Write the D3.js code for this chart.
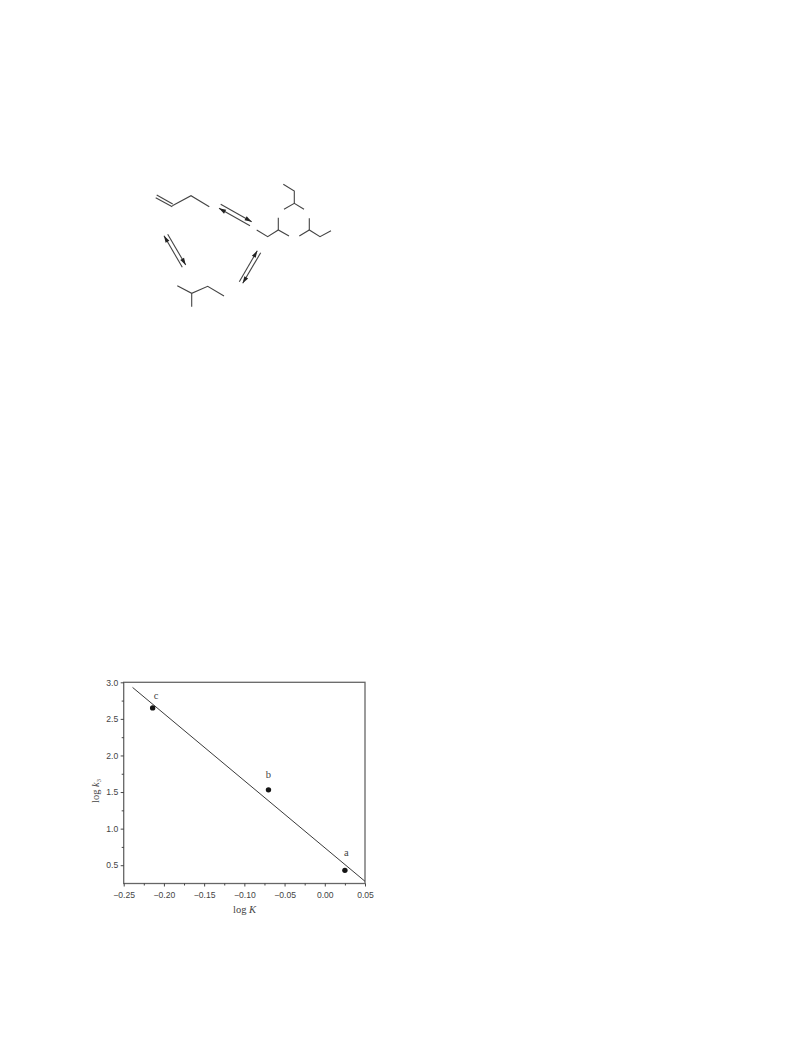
<!DOCTYPE html>
<html><head><meta charset="utf-8">
<script src="https://cdn.jsdelivr.net/npm/d3@7/dist/d3.min.js"></script>
<style>html,body{margin:0;padding:0;background:#fff}svg{display:block}</style></head>
<body><svg id="c" width="792" height="1056"></svg>
<script>
const pointLabels = ["a","b","c"];
const logK = [0.025,-0.07,-0.214];
const logK3 = [0.43,1.53,2.65];
const fitX = [-0.239,0.05];
const fitY = [2.93,0.28];
const xTicks = [-0.25,-0.20,-0.15,-0.10,-0.05,0.00,0.05];
const yTicks = [0.5,1.0,1.5,2.0,2.5,3.0];
const xMinor = [-0.225,-0.175,-0.125,-0.075,-0.025,0.025];
const yMinor = [0.75,1.25,1.75,2.25,2.75];

const svg = d3.select("#c");
const x = d3.scaleLinear().domain([-0.25,0.05]).range([123.7,365]);
const y = d3.scaleLinear().domain([0.25,3.0]).range([883.5,682.3]);
const ink = "#333", axisCol = "#666";
const fmt = v => d3.format(".2f")(v).replace("-","\u2212");

svg.append("rect").attr("x",x(-0.25)).attr("y",y(3)).attr("width",x(0.05)-x(-0.25)).attr("height",y(0.25)-y(3))
  .attr("fill","none").attr("stroke",axisCol).attr("stroke-width",1.3);

const gx = svg.append("g").attr("transform",`translate(0,${y(0.25)})`);
gx.call(d3.axisBottom(x).tickValues(xTicks).tickFormat(fmt).tickSize(3).tickPadding(5.5));
const gxm = svg.append("g").attr("transform",`translate(0,${y(0.25)})`);
gxm.call(d3.axisBottom(x).tickValues(xMinor).tickFormat("").tickSize(2));
const gy = svg.append("g").attr("transform",`translate(${x(-0.25)},0)`);
gy.call(d3.axisLeft(y).tickValues(yTicks).tickFormat(d3.format(".1f")).tickSize(3).tickPadding(2.5));
const gym = svg.append("g").attr("transform",`translate(${x(-0.25)},0)`);
gym.call(d3.axisLeft(y).tickValues(yMinor).tickFormat("").tickSize(2));
[gx,gxm,gy,gym].forEach(g=>{
  g.select(".domain").remove();
  g.selectAll("line").attr("stroke",ink).attr("stroke-width",0.9);
  g.selectAll("text").attr("fill","#444").style("font-family","'Liberation Sans',Arial,sans-serif").style("font-size","8.6px");
});

svg.append("line").attr("x1",x(fitX[0])).attr("y1",y(fitY[0])).attr("x2",x(fitX[1])).attr("y2",y(fitY[1]))
  .attr("stroke","#3a3a3a").attr("stroke-width",1);

svg.selectAll("circle.p").data(logK).join("circle").attr("class","p")
  .attr("cx",d=>x(d)).attr("cy",(d,i)=>y(logK3[i])).attr("r",2.7).attr("fill","#151515");

const serif = "'Liberation Serif','Times New Roman',serif";
const labelDx = [1.5,0,3.5], labelDy = [-14.5,-12,-8.5];
svg.selectAll("text.l").data(pointLabels).join("text").attr("class","l")
  .attr("x",(d,i)=>x(logK[i])+labelDx[i]).attr("y",(d,i)=>y(logK3[i])+labelDy[i])
  .attr("text-anchor","middle").attr("fill","#444").style("font-family",serif).style("font-size","10.5px").text(d=>d);

const xl = svg.append("text").attr("x",244.5).attr("y",912.5).attr("text-anchor","middle").attr("fill","#444")
  .style("font-family",serif).style("font-size","10.5px");
xl.append("tspan").text("log ");
xl.append("tspan").attr("font-style","italic").text("K");
const yl = svg.append("text").attr("transform","translate(98.5,791) rotate(-90)").attr("text-anchor","middle").attr("fill","#444")
  .style("font-family",serif).style("font-size","10.5px");
yl.append("tspan").text("log ");
yl.append("tspan").attr("font-style","italic").text("k");
yl.append("tspan").attr("dy",2).style("font-size","6.5px").text("3");

// reaction scheme
const bonds = [
  [[155.7,197.7],[172.3,206.7]],
  [[156.7,195],[172.7,204]],
  [[172.3,205.7],[191,195.7],[209.3,206.7]],
  [[283.3,184.3],[294.3,191],[294.3,203.3]],
  [[284,209.3],[294.3,203.3],[304,209.3]],
  [[256.7,230],[267.7,236.7],[278.3,230],[289,236]],
  [[278.3,230],[278.3,217.7]],
  [[299.3,236],[309.3,230],[320,236.7],[331,230.7]],
  [[309.3,230],[309.3,218.3]],
  [[177.3,285.7],[191.7,293.3],[207.7,286.3],[224,296]],
  [[191.7,293.3],[191.7,306.7]]
];
const arrows = [
  [[220.7,204.3],[251.7,221.7]],
  [[250,225.7],[219,208.3]],
  [[167.7,234.3],[185.7,265]],
  [[182.3,267.3],[164,235.7]],
  [[260.7,252.7],[242.7,283.3]],
  [[239.3,281.7],[257.3,250.7]]
];
const ln = d3.line();
svg.append("g").selectAll("path").data(bonds).join("path").attr("d",ln).attr("fill","none")
  .attr("stroke","#444").attr("stroke-width",1.1);
const ag = svg.append("g");
ag.selectAll("path").data(arrows).join("path").attr("d",ln).attr("fill","none")
  .attr("stroke","#444").attr("stroke-width",1.1);
ag.selectAll("polygon").data(arrows).join("polygon").attr("fill","#222").attr("points",a=>{
  const [p,q]=a, t=Math.atan2(q[1]-p[1],q[0]-p[0]), L=7, W=2.2;
  const bx=q[0]-L*Math.cos(t), by=q[1]-L*Math.sin(t), nx=-Math.sin(t), ny=Math.cos(t);
  return [[q[0],q[1]],[bx+W*nx,by+W*ny],[bx-W*nx,by-W*ny]].map(d=>d.join(",")).join(" ");
});
</script></body></html>
